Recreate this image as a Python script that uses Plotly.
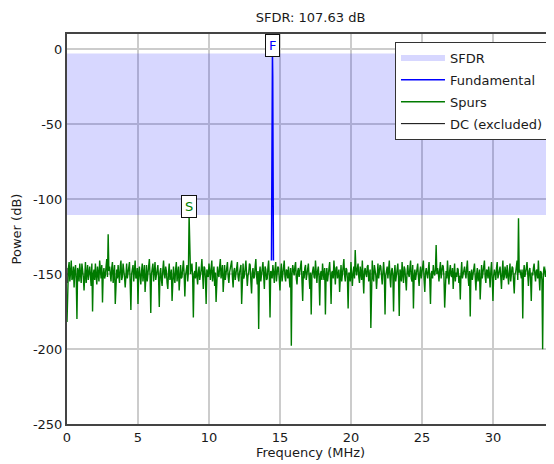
import numpy as np
import plotly.graph_objects as go

# ---------------- data ----------------
title_text = "SFDR: 107.63 dB"
freq_step_mhz = 0.05         # bin spacing of the spectrum (MHz)
freq_max_mhz = 34.3          # visible frequency span

# Spectrum (dB) on the even bins (every 0.1 MHz)
spur_power_even = [
    -182, -146, -155, -141, -152, -159, -144, -180, -148, -143, -156, -147, -161, -142, -150, -154, -145, -158, -175, -147,
    -143, -157, -149, -141, -153, -169, -146, -151, -140, -123.5, -145, -155, -142, -150, -170, -147, -144, -156, -141, -152,
    -146, -159, -143, -150, -142, -174, -148, -155, -141, -152, -170, -145, -157, -143, -149, -162, -144, -151, -140, -176,
    -147, -155, -142, -150, -144, -172, -146, -158, -141, -153, -148, -160, -143, -151, -168, -145, -156, -142, -149, -161,
    -144, -152, -141, -165, -147, -155, -110.63, -150, -143, -179, -148, -142, -157, -145, -151, -140, -160, -146, -170, -149,
    -143, -154, -141, -150, -158, -168.7, -145, -152, -140, -148, -162, -144, -151, -142, -156, -147, -141, -159, -146, -150,
    -142, -155, -147, -170, -143, -151, -141, -158, -149, -144, -163, -146, -152, -140, -157, -186.7, -145, -150, -142, -160,
    -147, -153, -141, -179, -149, -144, -156, -142, -151, -146, -161, -143, -150, -141, -155, -148, -145, -159, -197.8, -144,
    -151, -142, -157, -146, -149, -141, -168, -153, -144, -150, -143, -160, -177, -147, -152, -141, -156, -145, -171, -148,
    -143, -154, -177, -146, -150, -142, -170, -148, -141, -157, -145, -151, -162, -144, -149, -140, -155, -147, -173, -150,
    -142, -158, -145, -134, -151, -143, -156, -148, -141, -163, -146, -152, -144, -149, -186, -141, -155, -147, -160, -143,
    -150, -145, -157, -142, -177, -148, -153, -141, -159, -146, -175, -144, -151, -143, -178, -149, -142, -156, -147, -161,
    -144, -152, -141, -155, -173, -147, -150, -143, -158, -145, -149, -141, -162, -146, -153, -142, -170, -148, -144, -151,
    -130.7, -146, -155, -142, -150, -145, -172.4, -148, -141, -157, -144, -152, -160, -143, -149, -146, -156, -167, -142, -151,
    -145, -153, -141, -158, -178.4, -147, -150, -143, -161, -146, -152, -167, -144, -149, -141, -156, -148, -145, -159, -142,
    -168, -147, -154, -142, -150, -145, -160, -141, -152, -148, -144, -157, -143, -151, -146, -163, -149, -141, -112.9, -147,
    -153, -179.6, -144, -150, -142, -158, -146, -168, -151, -143, -155, -147, -141, -161, -149, -200.2, -145, -152, -143, -166,
    -148, -156, -142, -150,
]

# Spectrum (dB) on the odd bins (between the even ones)
spur_power_odd = [
    -150, -142, -149, -154, -145, -148, -153, -146, -155, -150, -143, -152, -147, -156, -144, -148, -151, -143, -150, -154,
    -151, -145, -155, -149, -144, -150, -153, -145, -152, -148, -150, -146, -156, -144, -149, -153, -151, -145, -154, -143,
    -152, -147, -153, -145, -156, -150, -144, -149, -153, -146, -149, -152, -148, -155, -144, -148, -155, -146, -151, -150,
    -143, -148, -154, -146, -153, -149, -154, -147, -150, -145, -156, -149, -154, -147, -150, -152, -147, -155, -145, -150,
    -153, -146, -150, -151, -144, -149, -148, -146, -152, -150, -153, -151, -149, -154, -147, -152, -145, -153, -147, -152,
    -150, -146, -155, -145, -149, -151, -150, -145, -153, -144, -151, -154, -146, -152, -149, -143, -152, -148, -154, -146,
    -152, -149, -144, -150, -153, -146, -150, -151, -143, -155, -149, -153, -145, -151, -148, -150, -155, -146, -151, -145,
    -154, -146, -152, -148, -153, -149, -147, -155, -145, -153, -149, -155, -146, -152, -147, -153, -152, -146, -150, -148,
    -145, -153, -148, -152, -144, -155, -148, -146, -154, -147, -152, -149, -151, -145, -153, -149, -148, -152, -150, -154,
    -150, -146, -151, -155, -145, -152, -149, -153, -149, -146, -153, -147, -150, -155, -145, -151, -146, -153, -149, -155,
    -151, -149, -153, -147, -146, -152, -145, -154, -150, -148, -150, -145, -155, -147, -149, -152, -144, -151, -149, -153,
    -144, -153, -149, -150, -151, -145, -149, -153, -148, -151, -150, -155, -146, -153, -147, -155, -150, -145, -154, -149,
    -150, -146, -153, -144, -152, -154, -145, -152, -149, -153, -145, -154, -149, -150, -147, -155, -150, -153, -149, -147,
    -150, -149, -147, -153, -144, -152, -151, -153, -150, -148, -151, -146, -150, -155, -152, -147, -151, -150, -153, -148,
    -150, -146, -152, -148, -150, -154, -144, -152, -150, -155, -147, -150, -153, -145, -152, -147, -153, -150, -148, -153,
    -151, -150, -146, -153, -147, -152, -149, -154, -145, -153, -151, -149, -155, -145, -152, -150, -145, -154, -149, -150,
    -147, -150, -152, -146, -151, -148, -153, -149, -146, -150, -148, -153, -152, -148, -154, -150, -149, -147, -151, -150,
    -144, -150, -154,
]

# Fundamental tone bins
fund_freqs = [14.40, 14.45, 14.47, 14.49, 14.54]
fund_power = [-141, -17.5, -3.0, -17.5, -141]

# DC bins (excluded)
dc_freqs = [0.0, 0.0]
dc_power = [-146, -156]

# SFDR band limits (dB)
sfdr_top = -3.0
sfdr_bottom = -110.63

# marker labels: (freq, level, text)
fund_marker = (14.47, -3.0, "F")
spur_marker = (8.6, -110.63, "S")

x_ticks = [0, 5, 10, 15, 20, 25, 30]
y_ticks = [-250, -200, -150, -100, -50, 0]
y_tick_labels = ["-250", "-200", "-150", "-100", "-50", "0"]
y_range = [-250, 10]

# ---------------- figure ----------------
spur_power = []
for i, v in enumerate(spur_power_even):
    spur_power.append(v)
    if i < len(spur_power_odd):
        spur_power.append(spur_power_odd[i])
spur_freqs = np.arange(len(spur_power)) * freq_step_mhz

FONT = "DejaVu Sans"
TXT = "#1a1a1a"
fig = go.Figure()

fig.add_trace(go.Scatter(
    x=[0, freq_max_mhz, freq_max_mhz, 0, 0],
    y=[sfdr_top, sfdr_top, sfdr_bottom, sfdr_bottom, sfdr_top],
    fill="toself", mode="none", fillcolor="rgba(0,0,255,0.155)",
    name="SFDR", hoverinfo="skip", legendgroup="a", legendrank=1,
))
fig.add_trace(go.Scatter(
    x=spur_freqs, y=spur_power, mode="lines",
    line=dict(color="#007a00", width=1.4), name="Spurs",
    legendgroup="c", legendrank=3,
))
fig.add_trace(go.Scatter(
    x=fund_freqs, y=fund_power, mode="lines",
    line=dict(color="#0000ff", width=1.5), name="Fundamental",
    legendgroup="b", legendrank=2,
))
fig.add_trace(go.Scatter(
    x=dc_freqs, y=dc_power, mode="lines",
    line=dict(color="#000000", width=1), name="DC (excluded)",
    legendgroup="d", legendrank=4,
))

for (fx, fy, txt), col in [(fund_marker, "#0000ff"), (spur_marker, "#008000")]:
    fig.add_annotation(
        x=fx, y=fy, text=txt, showarrow=False, yanchor="bottom", yshift=-3,
        font=dict(family=FONT, size=13, color=col),
        bgcolor="white", bordercolor="#111111", borderwidth=1, borderpad=3,
    )

# the page body has an 8px margin, so the figure is 8px smaller than the window
fig.update_layout(
    width=546, height=456,
    margin=dict(l=59, r=0, t=26, b=40),
    paper_bgcolor="white", plot_bgcolor="white",
    font=dict(family=FONT, size=13, color=TXT),
    title=dict(text=title_text, x=0.5, xref="paper", y=1 - 9 / 456,
               yanchor="middle", font=dict(family=FONT, size=13, color=TXT)),
    showlegend=True,
    legend=dict(
        x=0.9897, y=0.9795, xanchor="right", yanchor="top",
        bgcolor="white", bordercolor="#333333", borderwidth=1,
        font=dict(family=FONT, size=13, color=TXT),
        traceorder="grouped", tracegroupgap=2, itemwidth=44,
    ),
    xaxis=dict(
        range=[0, freq_max_mhz], tickvals=x_ticks, showgrid=True,
        gridcolor="#cccccc", gridwidth=1.5, zeroline=False,
        showline=True, linecolor="#444444", linewidth=2, mirror=True,
        ticks="", tickfont=dict(family=FONT, size=13, color=TXT),
        title=dict(text="Frequency (MHz)", standoff=4,
                   font=dict(family=FONT, size=13, color=TXT)),
    ),
    yaxis=dict(
        range=y_range, tickvals=y_ticks, ticktext=y_tick_labels, showgrid=True,
        gridcolor="#cccccc", gridwidth=1.5, zeroline=False,
        showline=True, linecolor="#444444", linewidth=2,
        ticks="", tickfont=dict(family=FONT, size=13, color=TXT),
        title=dict(text="Power (dB)", standoff=8,
                   font=dict(family=FONT, size=13, color=TXT)),
    ),
)

fig.write_html("out.html")
